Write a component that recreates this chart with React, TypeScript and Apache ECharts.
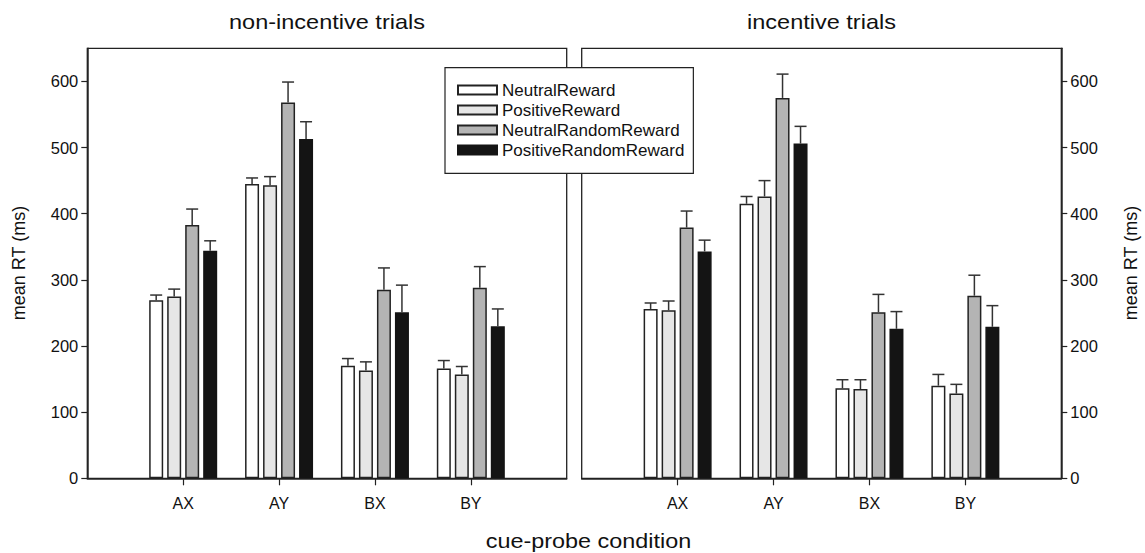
import React, { useEffect, useRef } from "react";
import * as echarts from "echarts";

const categories = ["", "AX", "AY", "BX", "BY", ""];
const seriesNames = ["NeutralReward", "PositiveReward", "NeutralRandomReward", "PositiveRandomReward"];
const panelTitles = ["non-incentive trials", "incentive trials"];
const yTicks = [0, 100, 200, 300, 400, 500, 600];

// non-incentive trials (means, upper error limits)
const nonNeutral = [269, 445, 170, 166];
const nonNeutralErr = [277, 454, 181, 178];
const nonPositive = [275, 443, 163, 157];
const nonPositiveErr = [286, 456, 176, 169];
const nonNeutralRandom = [383, 568, 285, 288];
const nonNeutralRandomErr = [407, 599, 318, 320];
const nonPositiveRandom = [344, 513, 251, 230];
const nonPositiveRandomErr = [359, 539, 292, 256];

// incentive trials
const incNeutral = [256, 415, 136, 140];
const incNeutralErr = [265, 426, 149, 157];
const incPositive = [254, 426, 135, 128];
const incPositiveErr = [268, 450, 149, 142];
const incNeutralRandom = [379, 575, 251, 276];
const incNeutralRandomErr = [404, 611, 278, 307];
const incPositiveRandom = [343, 506, 226, 229];
const incPositiveRandomErr = [360, 532, 252, 261];

const FONT = "'Liberation Sans', Arial, Helvetica, sans-serif";
const fills = ["#ffffff", "#e6e6e6", "#b4b4b4", "#141414"];
const borders = ["#222222", "#222222", "#222222", "#141414"];
const BAR_W = 14;
const BAR_GAP = 4;

export default function App() {
  const ref = useRef<HTMLDivElement>(null);
  useEffect(() => {
    if (!ref.current) return;
    const chart = echarts.init(ref.current, null, { renderer: "svg" });
    const panels = [
      { means: [nonNeutral, nonPositive, nonNeutralRandom, nonPositiveRandom], errs: [nonNeutralErr, nonPositiveErr, nonNeutralRandomErr, nonPositiveRandomErr] },
      { means: [incNeutral, incPositive, incNeutralRandom, incPositiveRandom], errs: [incNeutralErr, incPositiveErr, incNeutralRandomErr, incPositiveRandomErr] },
    ];
    const grids = [
      { left: 87.3, top: 48.3, width: 479.4, height: 430 },
      { left: 581.7, top: 48.3, width: 479.6, height: 430 },
    ];
    const lineStyle = { color: "#222", width: 1.5 };
    const xAxis = grids.map((_, gi) => ({
      type: "category",
      gridIndex: gi,
      data: categories,
      boundaryGap: false,
      axisLine: { show: true, lineStyle },
      axisTick: { show: true, length: 7, lineStyle: { color: "#222", width: 1.2 }, interval: (i: number) => i >= 1 && i <= 4 },
      axisLabel: { interval: (i: number) => i >= 1 && i <= 4, fontSize: 16, color: "#111", fontFamily: FONT, margin: 17 },
      splitLine: { show: false },
    }));
    const yAxis = grids.map((_, gi) => ({
      type: "value",
      gridIndex: gi,
      min: 0,
      max: 650,
      interval: 100,
      position: gi === 0 ? "left" : "right",
      axisLine: { show: true, lineStyle },
      axisTick: { show: true, length: 6, customValues: yTicks, lineStyle: { color: "#222", width: 1.2 } },
      axisLabel: { customValues: yTicks, fontSize: 16.5, color: "#111", fontFamily: FONT, margin: 9 },
      splitLine: { show: false },
    }));
    const series: any[] = [];
    const offsets = [0, 1, 2, 3].map((k) => -((4 * BAR_W + 3 * BAR_GAP) / 2) + BAR_W / 2 + k * (BAR_W + BAR_GAP));
    panels.forEach((p, gi) => {
      p.means.forEach((vals, k) => {
        series.push({
          type: "bar",
          name: seriesNames[k],
          xAxisIndex: gi,
          yAxisIndex: gi,
          barWidth: BAR_W,
          barGap: (BAR_GAP / BAR_W) * 100 + "%",
          data: ["-", ...vals, "-"],
          itemStyle: { color: fills[k], borderColor: borders[k], borderWidth: 1.5 },
          z: 2,
        });
      });
      p.means.forEach((vals, k) => {
        series.push({
          type: "custom",
          xAxisIndex: gi,
          yAxisIndex: gi,
          z: 3,
          encode: { x: 0, y: [1, 2] },
          data: vals.map((v, i) => [i + 1, v, p.errs[k][i]]),
          renderItem: (params: any, api: any) => {
            const x = api.value(0);
            const p1 = api.coord([x, api.value(1)]);
            const p2 = api.coord([x, api.value(2)]);
            const cx = p1[0] + offsets[k];
            const st = { stroke: "#333", lineWidth: 1.5 };
            return {
              type: "group",
              children: [
                { type: "line", shape: { x1: cx, y1: p1[1], x2: cx, y2: p2[1] }, style: st },
                { type: "line", shape: { x1: cx - 6, y1: p2[1], x2: cx + 6, y2: p2[1] }, style: st },
              ],
            };
          },
        });
      });
    });
    const txt = (text: string, x: number, y: number, size: number, extra: any = {}) => ({
      type: "text",
      x,
      y,
      ...extra,
      style: { text, font: `${size}px ${FONT}`, fill: "#111", align: "center", verticalAlign: "middle", textAlign: "center", textVerticalAlign: "middle" },
    });
    chart.setOption({
      animation: false,
      backgroundColor: "#fff",
      grid: grids.map((g) => ({ ...g, show: true, borderColor: "#222", borderWidth: 1.3, backgroundColor: "transparent" })),
      xAxis,
      yAxis,
      legend: {
        data: seriesNames,
        orient: "vertical",
        left: 445,
        top: 67.7,
        padding: [13.8, 9, 14.8, 12],
        itemWidth: 39,
        itemHeight: 9,
        itemGap: 3,
        itemTextGap: 10,
        backgroundColor: "#fff",
        borderColor: "#222",
        borderWidth: 1.2,
        textStyle: { fontSize: 17, color: "#111", fontFamily: FONT },
        icon: "rect",
        selectedMode: false,
        z: 10,
      },
      graphic: [
        txt(panelTitles[0], 327, 22, 21, { scaleX: 1.12 }),
        txt(panelTitles[1], 821.5, 22, 21, { scaleX: 1.12 }),
        txt("cue-probe condition", 588.5, 541.5, 20, { scaleX: 1.17 }),
        txt("mean RT (ms)", 19, 263, 18, { rotation: Math.PI / 2 }),
        txt("mean RT (ms)", 1131, 263, 18, { rotation: Math.PI / 2 }),
      ],
      series,
    });
    return () => chart.dispose();
  }, []);
  return <div ref={ref} style={{ position: "absolute", left: 0, top: 0, width: 1145, height: 553 }} />;
}
